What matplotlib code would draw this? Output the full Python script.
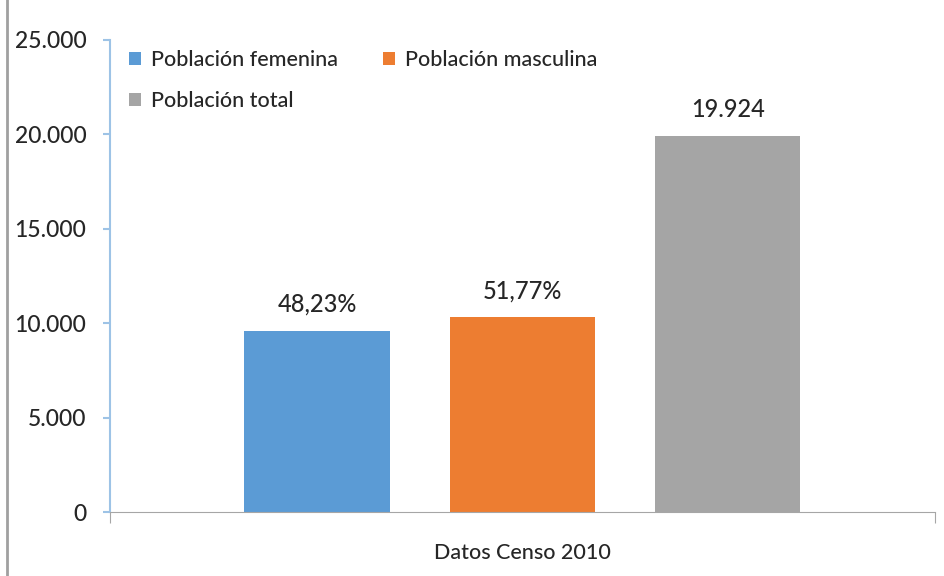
import matplotlib.pyplot as plt
from matplotlib.lines import Line2D
from matplotlib.ticker import FuncFormatter

plt.rcParams['font.family'] = ['Lato', 'DejaVu Sans']

series = ["Población femenina", "Población masculina", "Población total"]
values = [9609, 10315, 19924]
labels = ["48,23%", "51,77%", "19.924"]
colors = ["#5B9BD5", "#ED7D31", "#A5A5A5"]
category = "Datos Censo 2010"

TEXT = "#262626"
AXIS = "#9DC3E6"

fig = plt.figure(figsize=(9.45, 5.76), dpi=100)
ax = fig.add_axes([0.1164, 0.111, 0.8726, 0.8196])

group_center = 0.5
step = 0.249
width = 0.176
bars = []
for i, (name, v, lab, c) in enumerate(zip(series, values, labels, colors)):
    x = group_center + (i - 1) * step
    bars.append(ax.bar(x, v, width=width, color=c, label=name))
    ax.text(x, v + 800, lab, ha="center", va="bottom", fontsize=17,
            color=TEXT, fontweight="medium")

ax.set_xlim(0, 1)
ax.set_ylim(0, 25000)
ax.set_yticks(range(0, 25001, 5000))
ax.yaxis.set_major_formatter(FuncFormatter(lambda v, p: f"{int(v):,}".replace(",", ".")))
ax.set_xticks([0, 1])
ax.set_xticklabels([])
ax.set_xlabel(category, fontsize=15.5, color=TEXT, labelpad=11, fontweight="medium")

for s in ["top", "right"]:
    ax.spines[s].set_visible(False)
ax.spines["left"].set_color(AXIS)
ax.spines["left"].set_linewidth(1.5)
ax.spines["bottom"].set_color("#A6A6A6")
ax.tick_params(axis="y", colors=AXIS, length=5, width=1.5, labelsize=16.5, labelcolor=TEXT, pad=12)
for t in ax.get_yticklabels():
    t.set_fontweight("medium")
ax.tick_params(axis="x", colors="#A6A6A6", length=8, direction="out")

# row-wise legend order: femenina, masculina / total
order = [0, 2, 1]
ax.legend([bars[i] for i in order], [series[i] for i in order],
          loc="upper left", bbox_to_anchor=(0.0, 1.02), ncol=2, frameon=False,
          prop={"size": 15.5, "weight": "medium"}, handlelength=0.55, handleheight=0.55,
          handletextpad=0.45, columnspacing=2.1, labelspacing=1.0, labelcolor=TEXT)

fig.add_artist(Line2D([0.007, 0.007], [0.0, 1.0], color="#A0A0A0", linewidth=2, transform=fig.transFigure))

plt.savefig("out.png", dpi=100)
